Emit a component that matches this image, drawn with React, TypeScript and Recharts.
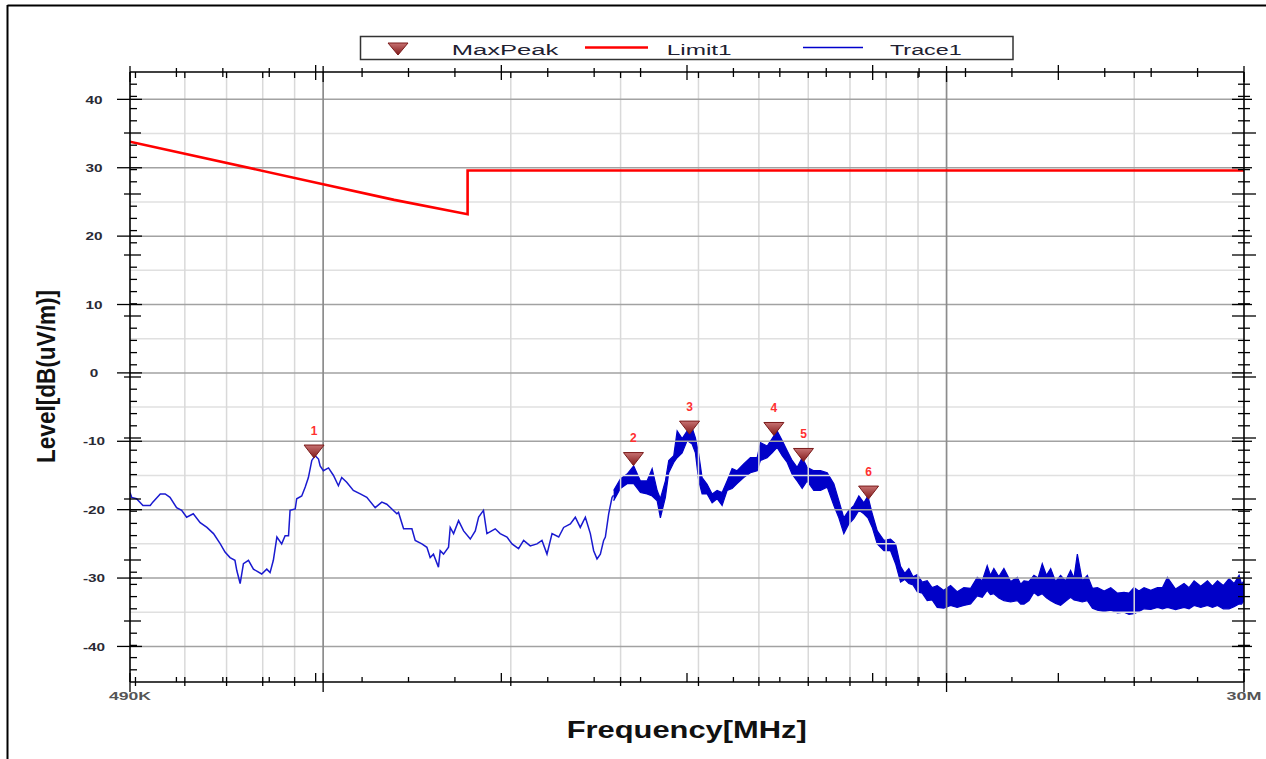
import React from 'react';
import { ComposedChart, Line, Area, Scatter, XAxis, YAxis, ReferenceLine } from 'recharts';

// ---------- axis ranges ----------
const FREQ_MIN = 0.49;
const FREQ_MAX = 30;
const LEVEL_MIN = -45.2;
const LEVEL_MAX = 44;

// ---------- Trace1 (thin part, MHz / dB(uV/m)) ----------
const traceFreq = [
  0.49, 0.493, 0.502, 0.514, 0.528, 0.533, 0.548, 0.558, 0.568, 0.582, 0.593, 0.604, 0.619, 0.635, 0.651,
  0.667, 0.684, 0.696, 0.709, 0.722, 0.727, 0.736, 0.745, 0.759, 0.773, 0.797, 0.812, 0.822, 0.832, 0.843,
  0.858, 0.869, 0.88, 0.885, 0.902, 0.907, 0.924, 0.936, 0.947, 0.959, 0.971, 0.983, 0.989, 1.001, 1.02,
  1.039, 1.058, 1.071, 1.091, 1.118, 1.147, 1.175, 1.212, 1.242, 1.265, 1.289, 1.313, 1.321, 1.346, 1.388,
  1.405, 1.44, 1.467, 1.485, 1.503, 1.531, 1.541, 1.56, 1.589, 1.599, 1.619, 1.649, 1.68, 1.722, 1.754,
  1.776, 1.808, 1.831, 1.888, 1.923, 1.972, 2.009, 2.058, 2.097, 2.149, 2.203, 2.244, 2.286, 2.329, 2.387,
  2.431, 2.492, 2.538, 2.585, 2.634, 2.683, 2.716, 2.75, 2.784, 2.818, 2.836, 2.871, 2.907, 2.924,
];
const traceLevel = [
  -17.5, -18.2, -18.4, -19.4, -19.4, -18.9, -17.7, -17.7, -18.2, -19.7, -20.1, -21.1, -20.6, -21.9, -22.6,
  -23.5, -25.0, -26.2, -27.0, -27.4, -28.9, -30.8, -27.9, -27.4, -28.7, -29.4, -28.7, -29.2, -27.4, -24.0,
  -25.0, -23.8, -23.8, -20.1, -19.9, -18.4, -18.0, -16.7, -15.3, -12.8, -12.1, -12.6, -13.6, -14.3, -13.9,
  -15.0, -16.5, -15.3, -16.0, -17.2, -17.7, -18.2, -19.7, -18.9, -19.2, -19.9, -20.6, -20.4, -22.8, -22.8,
  -24.5, -25.0, -25.5, -27.0, -26.5, -28.4, -26.0, -26.5, -25.5, -22.6, -23.5, -21.6, -23.1, -24.3, -23.1,
  -21.1, -20.1, -23.5, -22.8, -23.5, -24.0, -25.0, -25.7, -24.5, -25.3, -25.0, -24.5, -26.5, -23.5, -24.0,
  -22.6, -22.1, -21.1, -22.6, -21.1, -23.5, -26.0, -27.2, -26.5, -24.5, -24.0, -20.6, -18.2, -17.9,
];

// ---------- Trace1 (noisy part, lower / upper envelope) ----------
const bandFreq = [
  2.924, 2.998, 3.073, 3.149, 3.228, 3.308, 3.371, 3.434, 3.475, 3.54, 3.584, 3.651, 3.697, 3.766, 3.836,
  3.907, 3.955, 4.004, 4.054, 4.13, 4.207, 4.285, 4.365, 4.446, 4.529, 4.613, 4.727, 4.846, 4.968, 5.029,
  5.155, 5.251, 5.349, 5.449, 5.551, 5.653, 5.759, 5.867, 5.975, 6.124, 6.278, 6.435, 6.595, 6.718, 6.843,
  6.97, 7.1, 7.233, 7.368, 7.478, 7.6, 7.742, 7.934, 8.131, 8.283, 8.438, 8.569, 8.7, 8.836, 8.974,
  9.14, 9.311, 9.48, 9.661, 9.9, 10.15, 10.4, 10.66, 10.93, 11.2, 11.41, 11.62, 11.76, 11.91, 12.13,
  12.36, 12.67, 12.99, 13.15, 13.31, 13.56, 13.81, 14.02, 14.24, 14.46, 14.69, 14.96, 15.24, 15.52, 15.81,
  16.01, 16.21, 16.51, 16.82, 17.14, 17.46, 17.9, 18.34, 18.8, 19.26, 19.62, 19.98, 20.35, 20.74, 21.26,
  21.79, 22.2, 22.61, 23.3, 24.04, 24.49, 24.95, 25.57, 26.21, 26.7, 27.2, 27.79, 28.39, 28.92, 29.46,
  29.73, 30.0,
];
const bandLow = [
  -18.7, -16.9, -16.2, -16.2, -17.5, -17.7, -18.0, -18.7, -21.2, -18.2, -14.6, -13.1, -12.4, -11.7, -9.9,
  -10.4, -11.7, -15.8, -17.7, -17.7, -19.0, -18.4, -19.4, -17.2, -16.9, -16.2, -15.3, -14.6, -14.3, -12.8,
  -12.4, -11.7, -10.9, -12.1, -13.1, -14.8, -15.8, -16.9, -15.8, -17.2, -17.2, -16.7, -19.4, -21.2, -23.5,
  -22.1, -21.3, -20.1, -20.6, -21.2, -22.6, -25.0, -26.0, -26.0, -27.9, -30.6, -30.2, -30.8, -31.0, -32.0,
  -32.2, -33.3, -33.2, -34.3, -34.4, -34.0, -34.3, -34.0, -33.8, -32.6, -32.8, -31.8, -32.4, -32.3, -32.9,
  -33.3, -33.5, -33.3, -33.8, -33.8, -33.3, -32.1, -32.6, -32.3, -32.9, -33.3, -33.7, -34.0, -33.4, -32.8,
  -33.2, -33.3, -33.5, -33.3, -34.4, -34.7, -34.9, -34.7, -35.1, -35.0, -35.3, -35.2, -34.9, -34.5, -34.6,
  -34.3, -34.5, -34.3, -34.6, -34.3, -34.5, -34.0, -34.3, -34.0, -34.3, -34.0, -34.5, -34.5, -34.2, -33.8,
  -33.8, -33.3,
];
const bandHigh = [
  -17.2, -15.5, -14.8, -13.6, -15.8, -15.8, -14.0, -17.2, -18.4, -15.8, -12.8, -12.1, -8.5, -9.6, -8.5,
  -8.0, -9.5, -11.9, -15.3, -16.3, -17.7, -17.2, -17.5, -15.8, -14.0, -14.3, -13.3, -12.4, -12.4, -10.2,
  -10.7, -9.6, -8.5, -9.9, -11.4, -12.8, -13.8, -12.4, -13.8, -14.3, -14.3, -14.6, -16.2, -18.7, -21.2,
  -20.1, -19.4, -18.0, -19.0, -18.0, -20.6, -23.1, -24.5, -24.3, -25.0, -28.3, -29.3, -28.6, -29.8, -29.5,
  -30.6, -30.4, -31.4, -31.1, -31.8, -31.1, -32.0, -31.4, -31.5, -29.9, -30.4, -28.2, -29.6, -28.6, -29.8,
  -28.6, -30.5, -29.9, -30.9, -30.4, -30.5, -29.6, -30.0, -27.9, -29.6, -28.6, -30.5, -29.6, -30.4, -28.9,
  -30.0, -26.5, -30.4, -29.6, -31.5, -31.4, -31.9, -31.4, -32.2, -32.1, -32.2, -31.4, -31.9, -31.4, -31.8,
  -31.4, -31.4, -29.9, -31.6, -30.8, -31.4, -30.4, -31.2, -30.4, -31.2, -30.4, -31.1, -30.1, -30.8, -29.6,
  -30.9, -30.4,
];

// ---------- Limit1 ----------
const limitFreq = [0.49, 1.0, 1.3, 1.705, 1.705, 30];
const limitLevel = [33.8, 27.6, 25.3, 23.2, 29.6, 29.6];

// ---------- MaxPeak markers ----------
const peakNo = ['1', '2', '3', '4', '5', '6'];
const peakFreq = [0.967, 3.146, 3.87, 5.285, 5.895, 7.498];
const peakLevel = [-11.5, -12.6, -8.0, -8.2, -12.0, -17.5];

// ---------- grid / tick values ----------
const yMajorTicks = [-40, -30, -20, -10, 0, 10, 20, 30, 40];
const yMinorGrid = [-35, -25, -15, -5, 5, 15, 25, 35];
const xMajorGrid = [1, 10];
const xMinorGrid = [0.6, 0.7, 0.8, 0.9, 2, 3, 4, 5, 6, 7, 8, 9, 20];
const xEndTicks = [0.49, 30];
const xLogTicks = [0.5, 0.6, 0.7, 0.8, 0.9, 2, 3, 4, 5, 6, 7, 8, 9, 20];
const xLabels: Record<string, string> = { '0.49': '490K', '30': '30M' };

// axis division ticks (equal spacing along the drawn axis)
const X_DIVS = 24;
const Y_DIVS = 50;
const lx0 = Math.log10(FREQ_MIN);
const lx1 = Math.log10(FREQ_MAX);
const xDivTicks: number[] = [];
for (let k = 1; k < X_DIVS; k++) xDivTicks.push(Math.pow(10, lx0 + ((lx1 - lx0) * k) / X_DIVS));
const yDivTicks: number[] = [];
for (let k = 1; k < Y_DIVS; k++) yDivTicks.push(LEVEL_MIN + ((LEVEL_MAX - LEVEL_MIN) * k) / Y_DIVS);

const allXTicks = [...xEndTicks, 1, 10, ...xLogTicks, ...xDivTicks].sort((a, b) => a - b);
const allYTicks = [...yMajorTicks, ...yDivTicks].sort((a, b) => a - b);

// ---------- data tables for the library ----------
const traceRows = traceFreq.map((f, i) => ({ f, t: traceLevel[i] }));
const bandRows = bandFreq.map((f, i) => ({ f, b: [bandLow[i], bandHigh[i]] }));
const limitRows = limitFreq.map((f, i) => ({ f, l: limitLevel[i] }));
const peakRows = peakFreq.map((f, i) => ({ f, v: peakLevel[i], n: peakNo[i] }));

const FONT = '"Liberation Sans", Arial, sans-serif';
const near = (a: number, b: number) => Math.abs(a - b) < 1e-6;
const AX = 20; // axis band size (px)

function xKind(v: number): string {
  if (xEndTicks.some((t) => near(t, v)) || near(v, 1) || near(v, 10)) return 'major';
  if (xLogTicks.some((t) => near(t, v))) return 'log';
  const k = xDivTicks.findIndex((t) => near(t, v)) + 1;
  return k % 4 === 0 ? 'divLong' : 'div';
}
function yKind(v: number): string {
  if (yMajorTicks.some((t) => near(t, v))) return 'major';
  const k = yDivTicks.findIndex((t) => near(t, v)) + 1;
  return k % 5 === 0 ? 'divLong' : 'div';
}

const XTickBottom = (props: any) => {
  const { x, y, payload } = props;
  const v = payload.value as number;
  const kind = xKind(v);
  let y1 = y - 5, y2 = y;
  if (kind === 'major') { y1 = y - 9; y2 = y + 10; }
  else if (kind === 'log') { y1 = y - 5; y2 = y + 4; }
  else if (kind === 'divLong') { y1 = y - 9; y2 = y; }
  const label = xLabels[String(v)];
  return (
    <g>
      <line x1={x} x2={x} y1={y1} y2={y2} stroke="#000" strokeWidth={1.3} />
      {label ? (
        <text x={x} y={y + 18} textAnchor="middle" fontFamily={FONT} fontWeight="bold" fontSize={11.6}
          fill="#555" textLength={label.length === 4 ? 42 : 35} lengthAdjust="spacingAndGlyphs">{label}</text>
      ) : null}
    </g>
  );
};

const XTickTop = (props: any) => {
  const { x, y, payload } = props;
  const kind = xKind(payload.value as number);
  let y1 = y - 4, y2 = y + 5;
  if (kind === 'major') { y1 = y - 6; y2 = y + 10; }
  else if (kind === 'log') { y1 = y; y2 = y + 6; }
  else if (kind === 'divLong') { y1 = y - 7; y2 = y + 8; }
  return <line x1={x} x2={x} y1={y1} y2={y2} stroke="#000" strokeWidth={1.3} />;
};

const YTickLeft = (props: any) => {
  const { x, y, payload } = props;
  const v = payload.value as number;
  const kind = yKind(v);
  let x1 = x, x2 = x + 7;
  if (kind === 'major') { x1 = x - 13; x2 = x + 12; }
  else if (kind === 'divLong') { x1 = x - 6; x2 = x + 11; }
  return (
    <g>
      <line x1={x1} x2={x2} y1={y} y2={y} stroke="#000" strokeWidth={1.3} />
      {kind === 'major' ? (
        <text transform={`translate(${x - 36},${y + 4.2}) scale(1.3,1)`} textAnchor="middle"
          fontFamily={FONT} fontWeight="bold" fontSize={11.8} fill="#2a2a35">{String(v)}</text>
      ) : null}
    </g>
  );
};

const YTickRight = (props: any) => {
  const { x, y, payload } = props;
  const kind = yKind(payload.value as number);
  let x1 = x - 6, x2 = x + 6;
  if (kind === 'major') { x1 = x - 12; x2 = x + 8; }
  else if (kind === 'divLong') { x1 = x - 12; x2 = x + 12; }
  return <line x1={x1} x2={x2} y1={y} y2={y} stroke="#000" strokeWidth={1.3} />;
};

const renderPeak = (props: any) => {
  const { cx, cy, payload } = props;
  if (cx == null || cy == null) return <g />;
  return (
    <g>
      <polygon points={`${cx - 10},${cy - 6.5} ${cx + 10},${cy - 6.5} ${cx},${cy + 6.5}`}
        fill="url(#peakGrad)" stroke="#7a1a1a" strokeWidth={1} />
      <text x={cx} y={cy - 17} textAnchor="middle" fontFamily={FONT} fontWeight="bold" fontSize={12}
        fill="#ff3030">{payload.n}</text>
    </g>
  );
};

export default function App() {
  return (
    <div style={{ position: 'absolute', left: 0, top: 0, width: 1266, height: 759, background: '#fff' }}>
      <ComposedChart width={1266} height={759}
        margin={{ top: 72 - AX, right: 22 - AX, bottom: 77 - AX, left: 130 - AX }}>
        <defs>
          <linearGradient id="peakGrad" x1="0" y1="0" x2="0" y2="1">
            <stop offset="0%" stopColor="#c77272" />
            <stop offset="100%" stopColor="#801818" />
          </linearGradient>
        </defs>
        <XAxis xAxisId={0} dataKey="f" type="number" scale="log" domain={[FREQ_MIN, FREQ_MAX]} allowDataOverflow
          orientation="bottom" height={AX} ticks={allXTicks} interval={0} tickSize={0} tickMargin={0}
          tickLine={false} axisLine={{ stroke: '#000', strokeWidth: 1.6 }} tick={XTickBottom} />
        <XAxis xAxisId="top" dataKey="f" type="number" scale="log" domain={[FREQ_MIN, FREQ_MAX]} allowDataOverflow
          orientation="top" height={AX} ticks={allXTicks} interval={0} tickSize={0} tickMargin={0}
          tickLine={false} axisLine={{ stroke: '#000', strokeWidth: 1.6 }} tick={XTickTop} />
        <YAxis yAxisId={0} type="number" domain={[LEVEL_MIN, LEVEL_MAX]} allowDataOverflow orientation="left"
          width={AX} ticks={allYTicks} interval={0} tickSize={0} tickMargin={0} tickLine={false}
          axisLine={{ stroke: '#000', strokeWidth: 1.6 }} tick={YTickLeft} />
        <YAxis yAxisId="right" type="number" domain={[LEVEL_MIN, LEVEL_MAX]} allowDataOverflow orientation="right"
          width={AX} ticks={allYTicks} interval={0} tickSize={0} tickMargin={0} tickLine={false}
          axisLine={{ stroke: '#000', strokeWidth: 1.6 }} tick={YTickRight} />

        {yMinorGrid.map((v) => (
          <ReferenceLine key={'hy' + v} y={v} stroke="#e0e0e0" strokeWidth={1.5} />
        ))}
        {xMinorGrid.map((v) => (
          <ReferenceLine key={'vx' + v} x={v} stroke="#d9d9d9" strokeWidth={1.5} />
        ))}
        {yMajorTicks.map((v) => (
          <ReferenceLine key={'Hy' + v} y={v} stroke="#a2a2a2" strokeWidth={1.5} />
        ))}
        {xMajorGrid.map((v) => (
          <ReferenceLine key={'Vx' + v} x={v} stroke="#8c8c8c" strokeWidth={1.7} />
        ))}

        <Line data={limitRows} dataKey="l" type="linear" stroke="#ff0000" strokeWidth={2.6} dot={false}
          isAnimationActive={false} />
        <Area data={bandRows} dataKey="b" type="linear" stroke="#0000c8" strokeWidth={1.2} fill="#0000c8"
          fillOpacity={1} dot={false} activeDot={false} isAnimationActive={false} />
        <Line data={traceRows} dataKey="t" type="linear" stroke="#1a1ad0" strokeWidth={1.5} dot={false}
          isAnimationActive={false} />
        <Scatter data={peakRows} dataKey="v" shape={renderPeak} isAnimationActive={false} />
      </ComposedChart>

      <svg width={1266} height={759} style={{ position: 'absolute', left: 0, top: 0, pointerEvents: 'none' }}>
        <defs>
          <linearGradient id="peakGradLegend" x1="0" y1="0" x2="0" y2="1">
            <stop offset="0%" stopColor="#c77272" />
            <stop offset="100%" stopColor="#801818" />
          </linearGradient>
        </defs>
        {/* outer frame */}
        <line x1={7.5} y1={5} x2={7.5} y2={759} stroke="#000" strokeWidth={2} />
        <line x1={7.5} y1={5.5} x2={1266} y2={5.5} stroke="#000" strokeWidth={2} />

        {/* legend */}
        <rect x={360.5} y={36.5} width={652.5} height={23} fill="#fff" stroke="#333" strokeWidth={1.5} />
        <polygon points="388,43 408,43 398,55" fill="url(#peakGradLegend)" stroke="#7a1a1a" strokeWidth={1} />
        <text x={451.7} y={55} fontFamily={FONT} fontSize={14} fill="#202030" textLength={106.7}
          lengthAdjust="spacingAndGlyphs">MaxPeak</text>
        <line x1={585} x2={648} y1={47.5} y2={47.5} stroke="#ff0000" strokeWidth={2.6} />
        <text x={666.7} y={55} fontFamily={FONT} fontSize={14} fill="#202030" textLength={65}
          lengthAdjust="spacingAndGlyphs">Limit1</text>
        <line x1={803} x2={863} y1={47.5} y2={47.5} stroke="#0000cc" strokeWidth={1.3} />
        <text x={890} y={55} fontFamily={FONT} fontSize={14} fill="#202030" textLength={71.7}
          lengthAdjust="spacingAndGlyphs">Trace1</text>

        {/* axis titles */}
        <text x={566.7} y={738.3} fontFamily={FONT} fontWeight="bold" fontSize={23} fill="#111"
          textLength={240} lengthAdjust="spacingAndGlyphs">Frequency[MHz]</text>
        <text transform="translate(55,376.5) scale(1.18,1) rotate(-90)" textAnchor="middle" fontFamily={FONT}
          fontWeight="bold" fontSize={21.5} fill="#111" textLength={173} lengthAdjust="spacingAndGlyphs">
          Level[dB(uV/m)]
        </text>
      </svg>
    </div>
  );
}
